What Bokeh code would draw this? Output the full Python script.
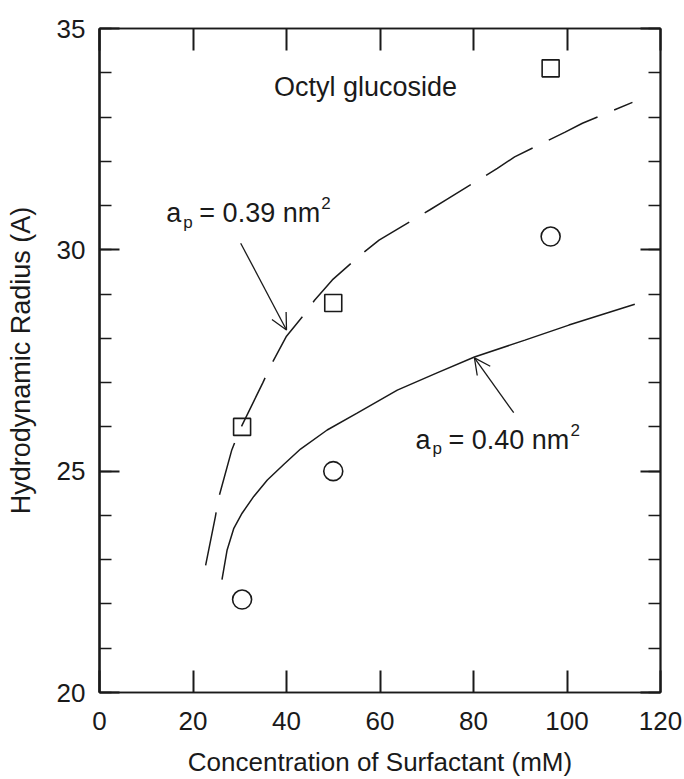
from bokeh.plotting import figure
from bokeh.models import Range1d, LinearAxis, SingleIntervalTicker, Label, Arrow, OpenHead
from bokeh.embed import file_html
from bokeh.resources import INLINE

# ---- data ----
sq_x = [30.5, 50.0, 96.5]          # a_p = 0.39 nm^2 (squares)
sq_y = [26.0, 28.8, 34.1]
ci_x = [30.5, 50.0, 96.5]          # a_p = 0.40 nm^2 (circles)
ci_y = [22.1, 25.0, 30.3]

dash_x = [22.7, 24.8, 25.5, 28.3, 30.0, 34.9, 36.7, 40.0, 43.7, 46.0, 49.8, 55.8,
          59.8, 70.6, 74.3, 85.1, 88.8, 99.6, 103.3, 114.0]
dash_y = [22.87, 23.98, 24.4, 25.48, 25.93, 26.99, 27.4, 28.05, 28.53, 28.86, 29.32, 29.88,
          30.22, 30.9, 31.14, 31.84, 32.1, 32.66, 32.86, 33.33]

solid_x = [26.2, 27.3, 28.7, 30.5, 33.0, 35.9, 39.4, 43.0, 48.7, 55.1, 63.7, 72.2, 80.2,
           91.0, 100.4, 114.5]
solid_y = [22.55, 23.22, 23.7, 24.05, 24.43, 24.8, 25.15, 25.5, 25.93, 26.31, 26.83, 27.22,
           27.58, 27.96, 28.3, 28.77]

x_ticks_interval = 20
y_ticks_interval = 5
x_title = "Concentration of Surfactant (mM)"
y_title = "Hydrodynamic Radius (A)"

FONT = "Liberation Sans"
INK = "#1a1a1a"

p = figure(width=684, height=779, x_range=Range1d(0, 120), y_range=Range1d(20, 35),
           output_backend="svg", toolbar_location=None,
           x_axis_type=None, y_axis_type=None,
           min_border_left=99, min_border_right=24, min_border_top=28, min_border_bottom=86)
p.outline_line_color = INK
p.outline_line_width = 1.5
p.background_fill_color = "white"
p.border_fill_color = "white"


def style_axis(ax, tick_in, minor_in, lw, labels=True):
    ax.axis_line_color = INK
    ax.axis_line_width = lw
    ax.major_tick_line_color = INK
    ax.major_tick_line_width = 2
    ax.minor_tick_line_color = INK
    ax.minor_tick_line_width = 1.5
    ax.major_tick_in = tick_in
    ax.major_tick_out = 0
    ax.minor_tick_in = minor_in
    ax.minor_tick_out = 0
    if labels:
        ax.major_label_text_font = FONT
        ax.major_label_text_font_size = "26px"
        ax.major_label_text_color = INK
        ax.axis_label_text_font = FONT
        ax.axis_label_text_font_size = "27px"
        ax.axis_label_text_font_style = "normal"
        ax.axis_label_text_color = INK
    else:
        ax.major_label_text_font_size = "0px"
        ax.major_label_text_color = None
        ax.major_label_standoff = 0


xb = LinearAxis(ticker=SingleIntervalTicker(interval=x_ticks_interval, num_minor_ticks=0),
                axis_label=x_title)
style_axis(xb, 22, 0, 1.5)
xb.axis_label_text_font_size = "26px"
xb.major_label_standoff = 19
xb.axis_label_standoff = 14
p.add_layout(xb, "below")

xt = LinearAxis(ticker=SingleIntervalTicker(interval=x_ticks_interval, num_minor_ticks=0))
style_axis(xt, 22, 0, 1.5, labels=False)
p.add_layout(xt, "above")

yl = LinearAxis(ticker=SingleIntervalTicker(interval=y_ticks_interval, num_minor_ticks=5),
                axis_label=y_title)
style_axis(yl, 20, 12, 2.5)
yl.major_label_standoff = 14
yl.axis_label_standoff = 18
p.add_layout(yl, "left")

yr = LinearAxis(ticker=SingleIntervalTicker(interval=y_ticks_interval, num_minor_ticks=5))
style_axis(yr, 20, 12, 2, labels=False)
p.add_layout(yr, "right")

# curves
p.line(dash_x, dash_y, line_color=INK, line_width=1.5, line_dash="54 18")
p.line(solid_x, solid_y, line_color=INK, line_width=1.5)

# markers
p.scatter(sq_x, sq_y, marker="square", size=17, fill_color=None, line_color=INK, line_width=1.6)
p.scatter(ci_x, ci_y, marker="circle", size=19, fill_color=None, line_color=INK, line_width=1.6)

# annotations
p.add_layout(Label(x=56.9, y=33.67, text="Octyl glucoside", text_font=FONT, text_font_size="27px",
                   text_color=INK, text_align="center", text_baseline="middle"))


def ap_label(x, y, val):
    parts = [("a", 0, 0, "27px"), ("p", 17, -9, "17px"), ("= " + val + " nm", 33, 0, "27px"),
             ("2", 155, 10, "17px")]
    for t, dx, dy, fs in parts:
        p.add_layout(Label(x=x, y=y, x_offset=dx, y_offset=dy, text=t, text_font=FONT,
                           text_font_size=fs, text_color=INK, text_align="left",
                           text_baseline="middle"))


ap_label(14.3, 30.83, "0.39")
ap_label(67.6, 25.71, "0.40")

p.add_layout(Arrow(x_start=30.2, y_start=30.15, x_end=40.0, y_end=28.19,
                   line_color=INK, line_width=1.3,
                   end=OpenHead(size=16, line_color=INK, line_width=1.3)))
p.add_layout(Arrow(x_start=88.6, y_start=26.32, x_end=80.2, y_end=27.56,
                   line_color=INK, line_width=1.3,
                   end=OpenHead(size=16, line_color=INK, line_width=1.3)))

open("out.html", "w").write(file_html(p, INLINE))
